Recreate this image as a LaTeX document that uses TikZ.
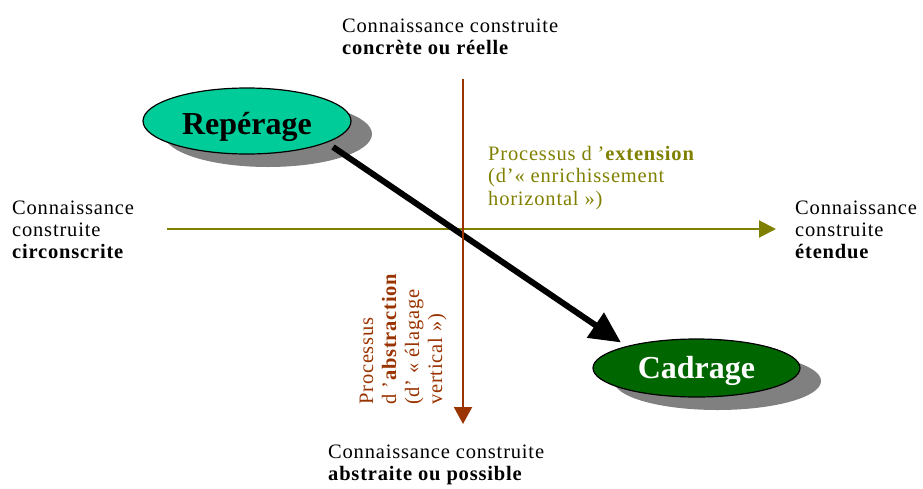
\documentclass[tikz,border=0pt]{standalone}
\usepackage{fontspec}
\setmainfont{Liberation Serif}
\newfontfamily\labfont{Liberation Serif}[LetterSpace=4]
\usetikzlibrary{arrows.meta,shapes.geometric,shadows}
\definecolor{olivex}{RGB}{128,128,0}
\definecolor{brownx}{RGB}{153,51,0}
\definecolor{repfill}{RGB}{0,204,153}
\definecolor{cadfill}{RGB}{0,102,0}
\definecolor{shadowx}{RGB}{128,128,128}
\begin{document}
\begin{tikzpicture}[x=1pt,y=-1pt,
  lab/.style={font=\labfont\fontsize{20.5}{22}\selectfont, inner sep=0pt, anchor=base west},
  bubble/.style={ellipse, draw=black, line width=1.2pt, inner sep=0pt,
    font=\bfseries\fontsize{32}{36}\selectfont,
    drop shadow={shadow xshift=21pt, shadow yshift=-13pt, fill=shadowx, opacity=1, draw=none}},
  axis/.style={line width=2pt},
  bigarrow/.style={line width=6pt, -{Triangle[length=31pt,width=29pt]}}
]
\useasboundingbox (0,0) rectangle (923,488);

% ellipses
\node[bubble, fill=repfill, minimum width=208pt, minimum height=66pt,
      text height=26pt, text depth=0pt] (rep) at (247,121) {Repérage};
\node[bubble, fill=cadfill, text=white, minimum width=207pt, minimum height=58pt,
      text height=20pt, text depth=0pt] (cad) at (696.5,368) {Cadrage};

% axes coordinates
\coordinate (hl) at (167,229);
\coordinate (hr) at (776,229);
\coordinate (vt) at (463,79);
\coordinate (vb) at (463,424);
\coordinate (a1) at (333,147);
\coordinate (a2) at (621,342.5);

\draw[axis, olivex, -{Triangle[length=17pt,width=17pt]}] (hl) -- (hr);
\draw[bigarrow] (a1) -- (a2);
\draw[axis, brownx, -{Triangle[length=17pt,width=18pt]}] (vt) -- (vb);

% top
\node[lab] (t1) at (342,32) {Connaissance construite};
\node[lab] (t2) at (342,54) {\bfseries concrète ou réelle};
% left
\node[lab] (l1) at (12,214) {Connaissance};
\node[lab] (l2) at (12,236.5) {construite};
\node[lab] (l3) at (12,258.5) {\bfseries circonscrite};
% right
\node[lab] (r1) at (795,214) {Connaissance};
\node[lab] (r2) at (795,236.5) {construite};
\node[lab] (r3) at (795,258.5) {\bfseries étendue};
% bottom
\node[lab] (b1) at (328,458) {Connaissance construite};
\node[lab] (b2) at (328,480) {\bfseries abstraite ou possible};
% extension
\node[lab, text=olivex] (e1) at (488,160) {Processus d ’\textbf{extension}};
\node[lab, text=olivex] (e2) at (488,182.5) {(d’« enrichissement};
\node[lab, text=olivex] (e3) at (488,205) {horizontal »)};
% abstraction
\node[lab, text=brownx, rotate=90] (p1) at (373,405) {Processus};
\node[lab, text=brownx, rotate=90] (p2) at (396,405) {d ’\textbf{abstraction}};
\node[lab, text=brownx, rotate=90] (p3) at (419,405) {(d’ « élagage};
\node[lab, text=brownx, rotate=90] (p4) at (442,405) {vertical »)};
\end{tikzpicture}
\end{document}
